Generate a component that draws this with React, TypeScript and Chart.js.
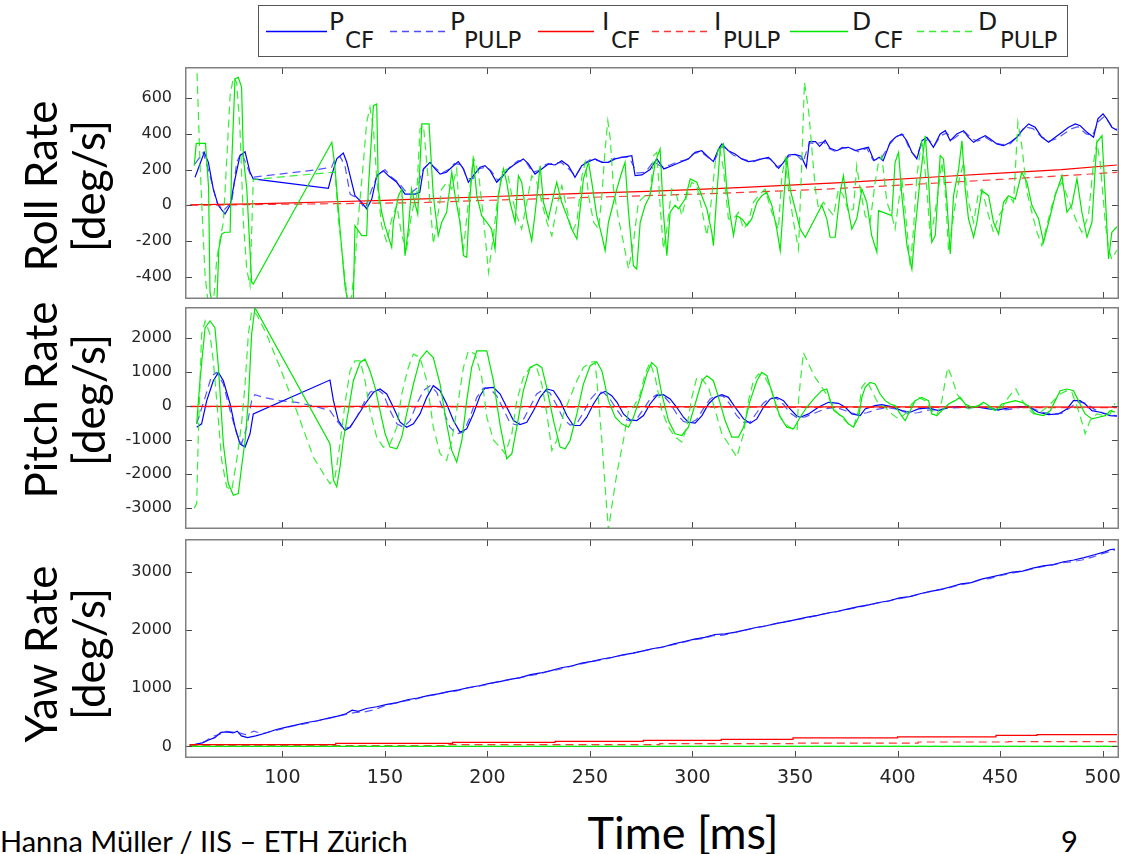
import React, { useEffect, useRef } from "react";
import { Chart, registerables } from "chart.js";
Chart.register(...registerables);

type Pt = [number, number];

// ---------- axes ----------
const X_MIN = 52.5;
const X_MAX = 508;
const xTicks = [100, 150, 200, 250, 300, 350, 400, 450, 500];
const rollTicks = [-400, -200, 0, 200, 400, 600];
const pitchTicks = [-3000, -2000, -1000, 0, 1000, 2000];
const yawTicks = [0, 1000, 2000, 3000];
const rollRange = [-525, 775];
const pitchRange = [-3614, 2906];
const yawRange = [-200, 3560];

const seriesNames = ["P_CF", "P_PULP", "I_CF", "I_PULP", "D_CF", "D_PULP"];

// ---------- Roll ----------
const rollPcf: Pt[] = [[57.4,157],[61.9,297],[63.9,241],[66.3,91],[68.7,0],[72,-49],[74.5,0],[76.9,148],[79.3,278],[81.8,300],[84.2,185],[85.8,148],[122.4,95],[124,166],[126.5,260],[129.7,293],[131.4,241],[133,166],[135.4,54],[138.7,17],[141.1,-20],[143.6,35],[146,166],[149.2,194],[151.7,166],[155.8,129],[159.8,63],[163,63],[164.7,63],[167,73],[168.8,204],[172,241],[174.5,204],[176.9,175],[180,185],[182.6,213],[185.8,245],[188.3,204],[190.7,129],[193.1,166],[196.4,213],[198.8,222],[201.3,194],[204.5,129],[207,157],[210.2,204],[213.5,232],[217.5,260],[220,232],[223.2,175],[226.5,204],[229.7,232],[233,226],[236.2,250],[239.5,222],[242.7,157],[246,222],[249.3,245],[252.5,260],[255.8,241],[259,241],[262.3,260],[265.5,269],[270.4,278],[272,166],[275.3,170],[279.3,200],[282.6,260],[286,204],[290,222],[294,241],[298,260],[301.3,297],[304.5,306],[307,278],[310.2,245],[312.7,316],[314.3,344],[317.5,306],[320.8,288],[324,260],[327.3,245],[330.6,250],[333.8,260],[337.1,269],[339.5,241],[342,207],[344.4,241],[346.8,282],[350,285],[353,275],[355.5,213],[357,357],[360,357],[362,330],[364.7,364],[367.1,320],[370.4,306],[373,320],[376,325],[379.5,306],[382.6,316],[385.8,325],[388.5,250],[391,269],[393,250],[396.4,353],[399,381],[402.1,400],[404.5,362],[407,297],[409.4,260],[411.9,362],[414.3,381],[417.5,325],[420.8,400],[423.3,418],[425.7,362],[428.9,400],[432.2,418],[434.6,381],[437.1,353],[439.5,372],[442.8,390],[445.2,372],[448.4,344],[451.7,334],[455,353],[458.2,381],[460.6,418],[463.9,456],[467.1,437],[470.4,381],[473.7,353],[476.9,381],[480.2,409],[483.4,437],[486.7,456],[489.1,446],[492.4,409],[495.6,381],[497.7,484],[500.2,512],[502.1,484],[504.5,437],[507,420]];
const rollPpulp: Pt[] = [[57.4,232],[61.4,297],[64.7,166],[68,17],[71.2,-30],[75.3,17],[77.7,241],[80.1,297],[82.6,222],[85,157],[115.9,198],[124,213],[125.7,260],[128.1,274],[130.5,222],[133,63],[137,35],[140.3,-20],[143.6,91],[146,157],[150,200],[153.3,157],[156.6,129],[159.8,82],[163,73],[166,100],[168,190],[171,230],[174,215],[177.7,180],[181,200],[184,235],[187.5,225],[190,150],[193,150],[196,205],[199.6,215],[202,190],[205,140],[208,170],[211,215],[215,250],[219,240],[222,185],[225,195],[228.5,230],[232,235],[236,240],[240,200],[243,165],[246.5,230],[250,255],[254,250],[258,235],[262,265],[266,270],[269,270],[273,180],[277,185],[281,245],[285,215],[289,225],[293,245],[297,255],[300.5,290],[304,300],[308,265],[311,255],[313.5,330],[316,320],[320,280],[323,265],[327,250],[330,245],[334,265],[338,260],[341,215],[344,230],[347,275],[351,280],[354,245],[357,350],[360,345],[364,355],[367,315],[370,300],[373,325],[377,320],[381,300],[385,320],[388,255],[392,260],[396,340],[400,390],[403,395],[406,310],[409,270],[412,350],[415,370],[418,335],[421,390],[424,405],[427,370],[430,395],[433,410],[436,375],[439,360],[443,380],[447,350],[451,340],[455,345],[459,390],[462,440],[466,430],[470,385],[474,360],[478,375],[481,400],[485,430],[488,440],[492,400],[495,390],[498,470],[501,500],[504,450],[507,425]];
const rollIcf: Pt[] = [[55,3],[70,5],[85,8],[100,12],[125,20],[150,28],[165,35],[200,48],[225,58],[250,68],[278,78],[300,88],[325,100],[350,115],[375,128],[391,140],[420,160],[450,180],[480,200],[507,226]];
const rollIpulp: Pt[] = [[55,0],[80,3],[100,6],[125,9],[167,15],[200,28],[230,38],[260,48],[277,54],[300,62],[330,75],[360,88],[391,106],[420,125],[450,145],[480,165],[507,185]];
const rollDcf: Pt[] = [[57,222],[58,347],[62.5,347],[64,100],[64.7,-487],[66,-560],[68,-560],[69,-245],[70.4,-160],[72,-151],[74.5,-151],[75.3,241],[76.9,708],[78.5,717],[80.1,661],[81,260],[82.6,100],[85,-431],[85.8,-441],[124.1,353],[125.5,230],[128.1,-133],[130.5,-450],[132.2,-560],[134.6,-530],[135.4,-114],[138.7,-170],[141.1,-170],[141.9,91],[144.4,558],[146,568],[146.8,91],[148.4,-39],[150,-114],[153.3,-235],[154.1,-95],[156.6,54],[158.2,91],[159.8,-282],[161.4,-133],[163,91],[164.7,10],[166,-50],[168,456],[171.5,456],[173.6,54],[176,-170],[177.7,-95],[180.1,-39],[182.6,185],[184.2,54],[186.6,-95],[188.3,-282],[189.9,-291],[191.5,54],[193.1,260],[194.8,54],[197.2,-58],[199.7,-95],[202,-133],[203.7,-245],[205.3,54],[207.8,204],[209.4,129],[211,17],[213.5,-95],[215.1,166],[216.7,129],[219.2,-76],[221.6,-198],[223.3,-39],[225.7,222],[227.3,17],[229.7,-76],[232.2,54],[233.8,129],[236.2,17],[238.7,-58],[241.1,-133],[243.6,-189],[245.2,-20],[246.8,148],[249.3,241],[250.9,129],[253.3,-58],[255.8,-170],[257.4,-254],[259,-95],[261.5,17],[263.1,91],[265.5,185],[267.1,241],[268.8,-39],[271.2,-338],[272.8,-357],[274.5,-95],[276.9,0],[279.3,54],[281.8,241],[284.2,316],[285.8,-39],[287.5,-282],[289.1,-39],[291.5,0],[293.2,-20],[296.4,35],[298.9,148],[302.1,129],[304.5,54],[307,-20],[309.4,-151],[310.2,-226],[311.8,54],[313.5,316],[315.1,344],[316.7,91],[318.4,-58],[320,-170],[321.6,-58],[324.1,-76],[326.5,-114],[328.9,-76],[331.4,17],[333.8,54],[336.2,73],[338.7,0],[341.1,-133],[342.8,-254],[344.4,17],[346,269],[347.6,91],[350.1,-20],[352.5,-133],[355,-179],[363.1,0],[365.5,-76],[367.1,-179],[369.6,-179],[372,73],[373.6,166],[375.3,17],[377.7,-133],[380.1,-76],[382.6,91],[385,17],[387.4,-170],[389.9,-263],[390.7,-30],[397.2,-58],[398.8,241],[400.5,297],[402.1,54],[404.6,-226],[407,-357],[408.6,-133],[411,148],[413.5,390],[415.1,148],[416.7,-207],[418.4,-170],[420.8,278],[422.4,260],[424.1,17],[425.7,-273],[427.3,54],[429.8,204],[431.4,362],[433,91],[434.6,-76],[437.1,-179],[438.7,-95],[441.1,82],[444.4,54],[446.8,-95],[449.3,-161],[451.7,17],[454.1,54],[457.4,35],[460.6,185],[463.1,129],[465.5,0],[468.8,-76],[471.2,-207],[473.7,-95],[476.9,54],[480.2,166],[482.6,-39],[485,0],[487.5,148],[489.9,-39],[492.4,-179],[494.8,-95],[497.2,353],[499.7,390],[501.3,54],[502.9,-301],[504.5,-151],[507,-120]];
const rollDpulp: Pt[] = [[57.4,790],[58.2,800],[59.8,241],[61.4,-180],[62.3,-394],[63.9,-560],[66.3,-560],[68,-300],[69.6,-189],[71.2,-95],[72.8,241],[74.5,614],[76.1,717],[77.7,689],[79.3,428],[81,-95],[82.6,-357],[84.2,-450],[85.8,144],[124,185],[125.7,185],[127.3,-76],[128.9,-245],[130.5,-412],[132.2,-560],[133.8,-506],[135.4,-319],[137,-76],[139.5,241],[141.1,465],[142.7,549],[144.4,428],[146,148],[148.4,-114],[150.9,-207],[153.3,-76],[155.8,0],[158.2,-170],[160.6,-245],[163.1,-39],[165.5,54],[167.1,428],[168.8,446],[170.4,241],[172,17],[173.6,-217],[175.3,-95],[177.7,91],[180.2,129],[182.6,91],[185,204],[186.6,-95],[188.3,-245],[190.7,17],[193.1,269],[195.6,185],[198.1,-76],[200.5,-375],[202.9,-170],[204.6,0],[207,185],[209.4,204],[211.9,54],[214.3,-58],[216.7,-133],[219.2,17],[221.6,166],[224.1,129],[226.5,17],[229,-95],[231.4,-170],[233.9,0],[236.3,110],[238.7,-20],[241.2,-151],[243.6,-95],[246.1,166],[247.7,241],[249.3,54],[251.8,-95],[254.2,-133],[255.8,54],[257.4,316],[258.7,474],[259.9,372],[261.5,91],[263.9,-76],[266.3,-207],[268.8,-357],[271.2,-207],[273.6,17],[276.9,54],[279.3,54],[281,278],[282.6,297],[284.2,0],[285.8,-245],[287.5,-133],[289.9,91],[292.3,54],[294.8,-58],[297.2,54],[299.7,129],[302.1,110],[304.5,-20],[307,-170],[308.6,-39],[311.1,241],[313,334],[315.1,204],[317.5,-76],[320,-76],[322.4,-39],[324.9,-133],[327.3,-95],[329.7,17],[332.2,54],[335.4,91],[338.7,-39],[341.9,-133],[343.6,166],[345.2,260],[346.8,91],[349.3,-95],[351.7,-245],[353.3,241],[354.6,689],[356.7,521],[358.2,316],[359.9,91],[361.5,-20],[363.9,17],[366.3,-20],[368.8,-58],[371.2,91],[373.6,54],[376.1,-39],[378.5,-20],[380.1,222],[381.8,91],[384.2,-58],[386.6,-95],[389.1,129],[390.7,241],[392.3,278],[394.8,17],[397.2,-58],[398.8,-133],[400.5,17],[402.1,148],[404.6,-133],[406.2,-347],[407.8,-133],[409.4,166],[411.9,372],[414.3,91],[415.9,-170],[417.5,-95],[420,91],[421.6,241],[423.3,73],[424.9,-263],[427.3,-58],[429.8,129],[432.2,241],[434.6,17],[437.1,-95],[439.5,73],[441.1,91],[444.4,-58],[446.8,-151],[449.3,-58],[451.7,-20],[454.1,54],[456.6,17],[458.7,465],[460.6,334],[463.1,73],[465.5,-39],[468,-151],[470.4,-226],[472.8,-114],[475.3,0],[477.7,91],[480.2,129],[482.6,54],[485,-20],[487.5,-95],[489.9,-151],[493.1,-58],[495.6,241],[497.2,353],[498.8,241],[501.3,-95],[502.9,-245],[504.5,-301],[507,-250]];

// ---------- Pitch ----------
const pitchPcf: Pt[] = [[58.2,-624],[60.6,-526],[63.1,156],[66.3,741],[68.8,984],[71.2,741],[74.5,58],[76.9,-624],[79.3,-1111],[81.8,-1208],[84.2,-819],[85.8,-234],[123.2,760],[124.9,156],[127.3,-429],[130.5,-721],[133,-624],[136.2,-331],[140.3,58],[144.4,400],[147.6,497],[150.9,351],[154.1,-39],[157.4,-478],[160.6,-624],[163.9,-526],[167.1,-234],[170.4,253],[173.6,595],[176.9,448],[180.1,58],[183.4,-429],[186.6,-770],[189.9,-672],[193.1,-234],[196.4,302],[198.8,526],[202.9,546],[206.2,351],[209.4,-39],[212.7,-429],[215.9,-546],[219.2,-478],[222.5,-136],[225.7,253],[228.9,497],[232.2,448],[235.4,156],[238.7,-283],[241.9,-575],[245.2,-575],[248.4,-331],[251.7,58],[254.9,351],[257.4,429],[260.6,302],[263.2,107],[266.3,-234],[269.6,-409],[272.8,-429],[276.1,-283],[279.3,58],[282.6,302],[285.8,331],[289.1,205],[292.3,-39],[295.6,-331],[298,-478],[301.3,-507],[304.6,-283],[307.8,58],[311,253],[314.3,331],[317.5,253],[320.8,-39],[324.9,-380],[328.1,-507],[331.4,-380],[334.6,-39],[337.9,205],[341.1,253],[344.4,156],[347.6,-88],[351,-300],[352.5,-331],[356.6,-234],[361.4,-39],[366.3,107],[371.2,78],[374.5,-39],[377.7,-234],[381.8,-283],[384.2,-88],[389,10],[392.3,39],[397,-20],[402.1,-136],[406.2,-185],[410.2,-88],[415,-58],[420,-136],[424.9,-39],[429.8,-20],[434.6,-39],[439.5,-39],[444.4,-88],[449.2,-117],[454.1,-58],[459,-20],[463.8,-20],[468.7,-185],[473.6,-253],[478.5,-234],[482.6,-88],[485.8,156],[489,156],[491.5,58],[494.8,-136],[498.8,-185],[503.7,-283],[507,-300]];
const pitchPpulp: Pt[] = [[58.2,-526],[62.3,253],[65.5,887],[68,984],[71.2,643],[74.5,-136],[77.7,-819],[80.1,-1111],[82.6,-624],[85,156],[86.6,331],[90.7,253],[98.8,156],[106.9,107],[115.1,0],[123.2,-136],[126.5,-429],[129.7,-672],[133,-624],[136.2,-331],[140.3,156],[142.7,400],[146,497],[149.2,351],[152.5,-136],[155.8,-526],[159,-624],[162.3,-429],[165.5,58],[168.8,448],[172,595],[175.3,400],[178.5,-136],[181.7,-624],[185,-819],[188.3,-770],[191.5,-331],[194.8,253],[198,526],[201.3,500],[204.5,300],[207.8,-100],[211,-500],[214.3,-560],[217.5,-400],[220.8,-30],[224,350],[227.3,480],[230.5,380],[233.8,20],[237,-380],[240.3,-560],[243.5,-520],[246.8,-200],[250,180],[253.3,400],[256.5,400],[259.8,200],[263,-100],[266.3,-380],[269.5,-440],[272.8,-380],[276,-100],[279.3,200],[282.5,330],[285.8,300],[289,80],[292.3,-230],[295.5,-450],[298.8,-510],[302,-400],[305.3,-80],[308.5,200],[311.8,320],[315,280],[318.3,50],[321.5,-280],[324.8,-480],[328,-470],[331.3,-200],[334.5,80],[337.8,230],[341,220],[344.3,50],[347.5,-200],[351,-350],[355,-320],[360,-200],[365,-80],[370,-40],[375,-150],[380,-250],[385,-200],[390,-100],[395,-50],[400,-100],[405,-220],[410,-200],[415,-120],[420,-110],[425,-60],[430,-50],[435,-60],[440,-40],[445,-60],[450,-130],[455,-100],[460,-40],[465,-50],[470,-180],[475,-230],[480,-220],[484,-60],[488,120],[492,80],[496,-100],[500,-200],[504,-270],[507,-280]];
const pitchIcf: Pt[] = [[55,-10],[150,-15],[250,-20],[350,-25],[450,-30],[507,-35]];
const pitchIpulp: Pt[] = [[55,-20],[200,-30],[350,-40],[507,-50]];
const pitchDcf: Pt[] = [[58.2,-526],[59.8,741],[62.3,2300],[64.7,2495],[67.1,2300],[68.8,1131],[71.2,-1111],[73.6,-2281],[76.1,-2622],[78.5,-2573],[80.1,-1793],[81.8,-1014],[83.4,156],[85,2105],[86.6,2885],[123.2,-1111],[124.9,-2183],[126.5,-2378],[128.1,-1793],[129.7,-1014],[132.2,-136],[134.6,741],[137.9,1277],[140.3,1374],[142.7,1033],[145.2,546],[147.6,-136],[150.1,-819],[152.5,-1209],[155.8,-1257],[158.2,-916],[160.6,-234],[163.9,643],[167.1,1374],[170.4,1618],[173.6,1423],[176.9,643],[180.1,-526],[182.6,-1306],[185,-1647],[187.5,-1014],[189.9,156],[192.3,1131],[194.8,1618],[198.1,1618],[199.7,1618],[202.9,741],[206.2,-569],[209.4,-1550],[211.9,-1403],[214.3,-624],[217.5,448],[220.8,1131],[224,1228],[226.5,1131],[228.9,546],[232.2,-429],[235.4,-1209],[237.9,-1257],[240.3,-1014],[243.6,-234],[246.8,643],[250.1,1180],[253.3,1296],[255.8,1033],[259,156],[262.3,-331],[265.5,-526],[268.8,-624],[271.2,-331],[274.5,253],[277.7,936],[280.1,1277],[282.6,1131],[285,351],[288.3,-429],[291.5,-819],[294.8,-867],[298,-624],[301.3,58],[304.6,741],[307,887],[310.2,741],[312.7,253],[315.9,-429],[319.2,-916],[322.4,-916],[324.9,-624],[328.1,156],[331.4,741],[333.8,984],[336.3,887],[339.5,253],[342.8,-331],[346,-624],[349.3,-672],[352.5,-331],[355.7,-39],[359.8,253],[363,448],[365.5,497],[367.2,156],[369,-136],[371.2,-234],[373.6,-331],[376,-526],[378.5,-624],[381,-331],[382.6,253],[384.2,546],[386.6,692],[389.1,643],[391.5,351],[394,156],[396.4,58],[398.8,10],[401.3,-234],[403.7,-429],[406.2,-136],[408.6,156],[411.8,253],[415.1,156],[416.7,-234],[419.2,-283],[421.6,-136],[424.9,58],[428,156],[430.5,253],[433,58],[436.3,-39],[439.5,10],[441.9,107],[444.4,10],[447.6,-136],[450.9,58],[454.1,107],[457.4,156],[460.6,107],[463.8,10],[467.1,-234],[471.2,-283],[474.5,-136],[476.9,156],[479.3,448],[482.6,497],[485.8,448],[488.2,156],[491.5,-234],[494.8,-380],[498,-331],[501.3,-283],[503.7,-136],[506,-180]];
const pitchDpulp: Pt[] = [[57,-3000],[58.2,-2865],[59,-819],[60.6,2105],[62.3,2495],[64.7,2105],[66.3,1326],[68.8,-429],[70.4,-1598],[72.8,-2378],[75.3,-2475],[77.7,-1598],[80.1,-526],[81.8,643],[83.4,2105],[85,2788],[87.4,2690],[92.3,2105],[98.8,1131],[106.9,-136],[115.1,-1501],[120,-1988],[123.2,-2281],[125.7,-2086],[128.1,-1111],[130.5,58],[133,1033],[135.4,1326],[137.9,1326],[140.3,741],[142.7,-136],[146,-916],[149.2,-1209],[152.5,-1111],[155.8,-624],[158.2,351],[161.4,1131],[163.9,1520],[167.1,1423],[170.4,741],[173.6,-624],[176.9,-1403],[180.1,-1598],[182.6,-1014],[185.8,156],[188.3,1131],[190.7,1618],[194,1520],[197.2,848],[199.7,-331],[203,-1014],[206.2,-1209],[208.6,-1403],[211.9,-819],[214.3,156],[217.5,838],[220.8,1131],[224,1131],[226.5,643],[229,-234],[231.4,-1306],[233.8,-1014],[237.1,-234],[240.3,253],[243.6,741],[246.8,1131],[250.1,1277],[252.5,1306],[254.2,156],[255.8,-1014],[257.4,-2378],[259,-3645],[260.6,-2963],[263.1,-1988],[266.3,-1014],[268.8,-136],[271.2,-39],[274.5,351],[276.9,936],[279.3,1277],[281.8,838],[285,-136],[288.3,-624],[291.5,-916],[294.8,-1062],[297.2,-624],[299.7,253],[302.1,838],[304.6,790],[307.8,546],[311.1,-136],[314.3,-819],[317.5,-1111],[321.6,-1501],[324.9,-819],[327.3,156],[329.7,741],[332.2,936],[335.4,838],[338.7,448],[341.9,-234],[345.2,-526],[348.4,-672],[351,-721],[351.7,156],[353.3,1131],[354.1,1569],[356.6,1228],[359.8,838],[363.1,546],[366.3,253],[369.6,-136],[372.8,-331],[376.1,-526],[378.5,-624],[381,-136],[382.6,546],[385,741],[387.4,448],[390.7,58],[394,-39],[397.2,-234],[400.5,-380],[403.7,-234],[407,58],[410.2,253],[413.5,156],[416.7,-136],[419.1,-283],[421.6,156],[423,643],[424.5,1131],[426.5,838],[429,351],[431.4,156],[434.6,-88],[437.9,-39],[441.1,58],[444.4,-39],[447.6,-136],[450.9,-39],[454.1,253],[456.6,448],[457.7,497],[459.8,253],[463.1,-39],[466.3,-234],[469.6,-185],[472.8,-39],[476.1,156],[479.3,351],[482.6,448],[485,400],[488.2,-136],[490.7,-624],[491.5,-819],[493.9,-429],[497.2,-234],[500.5,-283],[503.7,-234],[506,80]];

// ---------- Yaw ----------
const yawPcf: Pt[] = [[55,10],[58,40],[61,60],[64,110],[67,150],[70,240],[73,250],[76,230],[78,260],[80,180],[83,150],[87,180],[92,230],[97,290],[102,330],[107,370],[112,410],[117,440],[122,480],[127,520],[131,560],[134,620],[137,600],[141,650],[146,680],[151,720],[156,750],[161,800],[166,830],[171,870],[176,900],[181,940],[186,970],[191,1010],[196,1040],[201,1080],[206,1110],[211,1150],[216,1180],[221,1230],[226,1260],[231,1300],[236,1350],[241,1380],[246,1430],[251,1460],[256,1500],[261,1530],[266,1570],[271,1600],[276,1640],[281,1680],[286,1710],[291,1760],[296,1800],[301,1840],[306,1870],[311,1920],[316,1930],[321,1960],[326,2000],[331,2040],[336,2070],[341,2110],[346,2140],[351,2180],[356,2220],[361,2250],[366,2290],[371,2320],[376,2360],[381,2400],[386,2430],[391,2470],[396,2500],[401,2550],[406,2570],[411,2620],[416,2660],[421,2690],[426,2740],[431,2790],[436,2810],[441,2870],[446,2910],[451,2950],[456,2990],[461,3010],[466,3060],[471,3100],[476,3120],[481,3170],[486,3200],[491,3240],[496,3290],[501,3340],[504,3380],[506,3385]];
const yawPpulp: Pt[] = [[55,0],[59,30],[62,80],[66,170],[69,200],[72,260],[75,250],[79,230],[82,200],[86,260],[90,220],[95,260],[100,300],[105,350],[110,380],[115,420],[120,460],[125,500],[130,540],[135,580],[140,590],[145,630],[150,700],[155,740],[160,780],[165,810],[170,860],[175,890],[180,930],[185,950],[190,1000],[195,1030],[200,1060],[205,1110],[210,1140],[215,1170],[220,1210],[225,1240],[230,1290],[235,1320],[240,1370],[245,1410],[250,1450],[255,1480],[260,1520],[265,1560],[270,1590],[275,1630],[280,1670],[285,1700],[290,1740],[295,1780],[300,1830],[305,1850],[310,1900],[315,1910],[320,1950],[325,1990],[330,2030],[335,2060],[340,2100],[345,2140],[350,2170],[355,2200],[360,2240],[365,2280],[370,2310],[375,2350],[380,2380],[385,2420],[390,2460],[395,2490],[400,2530],[405,2560],[410,2610],[415,2650],[420,2690],[425,2720],[430,2770],[435,2800],[440,2860],[445,2880],[450,2930],[455,2970],[460,3000],[465,3040],[470,3080],[475,3110],[480,3150],[485,3170],[490,3200],[495,3250],[500,3310],[504,3350],[506,3370]];
const yawIcf: Pt[] = [[55,0],[126,29],[183,52],[233,69],[276,86],[314,103],[349,121],[400,144],[448,161],[468,190],[507,200]];
const yawIpulp: Pt[] = [[55,0],[179,11],[284,29],[349,46],[410,57],[454,75],[507,80]];
const yawDcf: Pt[] = [[55,0],[507,0]];
const yawDpulp: Pt[] = [[55,0],[507,0]];

// ---------- styles ----------
const seriesColors = ["#0000ff", "rgba(30,30,255,0.75)", "#ff0000", "rgba(255,20,20,0.85)", "#00e800", "rgba(20,235,20,0.85)"];
const seriesDash = [[], [8, 5], [], [8, 5], [], [8, 5]];

type PanelProps = {
  top: number;
  height: number;
  range: number[];
  yTicks: number[];
  series: Pt[][];
  stepped?: boolean[];
  showX: boolean;
};

const PLOT_LEFT = 185;
const PLOT_RIGHT = 1119;
const X_AXIS_H = 43;

function Panel({ top, height, range, yTicks, series, stepped, showX }: PanelProps) {
  const ref = useRef<HTMLCanvasElement>(null);
  const canvasH = height + (showX ? X_AXIS_H : 0);
  useEffect(() => {
    const frame = {
      id: "frame",
      afterDatasetsDraw(chart: any) {
        const { ctx, chartArea: a, scales } = chart;
        ctx.save();
        ctx.strokeStyle = "#4a4a4a";
        ctx.lineWidth = 1;
        ctx.beginPath();
        for (const t of xTicks) {
          const px = Math.round(scales.x.getPixelForValue(t)) + 0.5;
          ctx.moveTo(px, a.bottom);
          ctx.lineTo(px, a.bottom - 7);
          ctx.moveTo(px, a.top);
          ctx.lineTo(px, a.top + 7);
        }
        for (const v of yTicks) {
          const py = Math.round(scales.y.getPixelForValue(v)) + 0.5;
          ctx.moveTo(a.left, py);
          ctx.lineTo(a.left + 7, py);
          ctx.moveTo(a.right, py);
          ctx.lineTo(a.right - 7, py);
        }
        ctx.stroke();
        ctx.strokeStyle = "#808080";
        ctx.lineWidth = 1.5;
        ctx.strokeRect(a.left + 0.75, a.top + 0.75, a.right - a.left - 1.5, a.bottom - a.top - 1.5);
        ctx.restore();
      },
    };
    const chart = new Chart(ref.current as HTMLCanvasElement, {
      type: "line",
      data: {
        datasets: series.map((pts, i) => ({
          label: seriesNames[i],
          data: pts.map(([x, y]) => ({ x, y })),
          borderColor: seriesColors[i],
          backgroundColor: seriesColors[i],
          borderDash: seriesDash[i],
          borderWidth: 1.2,
          pointRadius: 0,
          tension: 0,
          fill: false,
          stepped: stepped && stepped[i] ? "after" : false,
          order: 5 - i,
        })),
      } as any,
      options: {
        animation: false,
        responsive: false,
        maintainAspectRatio: false,
        events: [],
        layout: { autoPadding: false, padding: { left: 0, right: 1122 - PLOT_RIGHT, top: 0, bottom: 0 } },
        plugins: { legend: { display: false }, tooltip: { enabled: false } },
        scales: {
          x: {
            type: "linear",
            min: X_MIN,
            max: X_MAX,
            display: showX,
            grid: { display: false, drawTicks: false },
            border: { display: false },
            ticks: {
              padding: 9,
              color: "#262626",
              font: { family: "DejaVu Sans", size: 19 },
              callback: (v: any) => String(v),
              maxRotation: 0,
              autoSkip: false,
            },
            afterBuildTicks: (s: any) => {
              s.ticks = xTicks.map((value) => ({ value }));
            },
            afterFit: (s: any) => {
              s.height = showX ? X_AXIS_H : 0;
              s.paddingLeft = 0;
              s.paddingRight = 0;
            },
          },
          y: {
            type: "linear",
            min: range[0],
            max: range[1],
            grid: { display: false, drawTicks: false },
            border: { display: false },
            ticks: {
              padding: 13,
              color: "#262626",
              font: { family: "DejaVu Sans", size: 16 },
              callback: (v: any) => String(v),
              autoSkip: false,
            },
            afterBuildTicks: (s: any) => {
              s.ticks = yTicks.map((value) => ({ value }));
            },
            afterFit: (s: any) => {
              s.width = PLOT_LEFT;
              s.paddingTop = 0;
              s.paddingBottom = 0;
            },
          },
        },
      } as any,
      plugins: [frame],
    });
    return () => chart.destroy();
  }, []);
  return (
    <canvas
      ref={ref}
      width={1122}
      height={canvasH}
      style={{ position: "absolute", left: 0, top, width: 1122, height: canvasH }}
    />
  );
}

const legendItems = [
  { main: "P", sub: "CF", color: "#0000ff", dash: "", x1: 266, x2: 327, tx: 329, sx: 345 },
  { main: "P", sub: "PULP", color: "rgba(30,30,255,0.8)", dash: "7 5", x1: 390, x2: 446, tx: 450, sx: 464 },
  { main: "I", sub: "CF", color: "#ff0000", dash: "", x1: 538, x2: 594, tx: 602, sx: 611 },
  { main: "I", sub: "PULP", color: "rgba(255,20,20,0.85)", dash: "7 5", x1: 652, x2: 708, tx: 714, sx: 723 },
  { main: "D", sub: "CF", color: "#00e800", dash: "", x1: 790, x2: 848, tx: 852, sx: 874 },
  { main: "D", sub: "PULP", color: "rgba(20,235,20,0.85)", dash: "7 5", x1: 917, x2: 973, tx: 978, sx: 1000 },
];

const yTitles = [
  { a: "Roll Rate", b: "[deg/s]", cy: 186 },
  { a: "Pitch Rate", b: "[deg/s]", cy: 400 },
  { a: "Yaw Rate", b: "[deg/s]", cy: 654 },
];

const bigFont = "Lato, 'Open Sans', sans-serif";

export default function App() {
  return (
    <div style={{ position: "fixed", left: 0, top: 0, width: 1122, height: 854, background: "#fff", overflow: "hidden" }}>
      <Panel top={67} height={232} range={rollRange} yTicks={rollTicks}
        series={[rollPcf, rollPpulp, rollIcf, rollIpulp, rollDcf, rollDpulp]} showX={false} />
      <Panel top={307} height={222} range={pitchRange} yTicks={pitchTicks}
        series={[pitchPcf, pitchPpulp, pitchIcf, pitchIpulp, pitchDcf, pitchDpulp]} showX={false} />
      <Panel top={539} height={219} range={yawRange} yTicks={yawTicks}
        series={[yawPcf, yawPpulp, yawIcf, yawIpulp, yawDcf, yawDpulp]}
        stepped={[false, false, true, true, false, false]} showX={true} />

      {/* legend */}
      <div style={{ position: "absolute", left: 258, top: 5, width: 808, height: 50, border: "1.5px solid #555", background: "#fff" }} />
      <svg width={1122} height={60} style={{ position: "absolute", left: 0, top: 0 }}>
        {legendItems.map((it, i) => (
          <line key={i} x1={it.x1} x2={it.x2} y1={31.5} y2={31.5} stroke={it.color} strokeWidth={1.5} strokeDasharray={it.dash || undefined} />
        ))}
      </svg>
      {legendItems.map((it, i) => (
        <React.Fragment key={i}>
          <span style={{ position: "absolute", left: it.tx, top: 9, fontFamily: "DejaVu Sans", fontSize: 25, lineHeight: "25px", color: "#1a1a1a", whiteSpace: "nowrap" }}>{it.main}</span>
          <span style={{ position: "absolute", left: it.sx, top: 29, fontFamily: "DejaVu Sans", fontSize: 23, lineHeight: "23px", color: "#1a1a1a", whiteSpace: "nowrap" }}>{it.sub}</span>
        </React.Fragment>
      ))}

      {/* y titles */}
      {yTitles.map((t, i) => (
        <React.Fragment key={i}>
          <div style={{ position: "absolute", left: 40, top: t.cy, transform: "translate(-50%,-50%) rotate(-90deg)", fontFamily: bigFont, fontSize: 44, lineHeight: "44px", color: "#000", whiteSpace: "nowrap" }}>{t.a}</div>
          <div style={{ position: "absolute", left: 88, top: t.cy, transform: "translate(-50%,-50%) rotate(-90deg)", fontFamily: bigFont, fontSize: 44, lineHeight: "44px", color: "#000", whiteSpace: "nowrap" }}>{t.b}</div>
        </React.Fragment>
      ))}

      <div style={{ position: "absolute", left: 683, top: 832, transform: "translate(-50%,-50%)", fontFamily: bigFont, fontSize: 45, lineHeight: "45px", color: "#000", whiteSpace: "nowrap" }}>Time [ms]</div>
      <div style={{ position: "absolute", left: 0, top: 826, fontFamily: bigFont, fontSize: 29, lineHeight: "29px", color: "#000", whiteSpace: "nowrap" }}>Hanna Müller / IIS – ETH Zürich</div>
      <div style={{ position: "absolute", left: 1061, top: 826, fontFamily: bigFont, fontSize: 29, lineHeight: "29px", color: "#000", whiteSpace: "nowrap" }}>9</div>
    </div>
  );
}
